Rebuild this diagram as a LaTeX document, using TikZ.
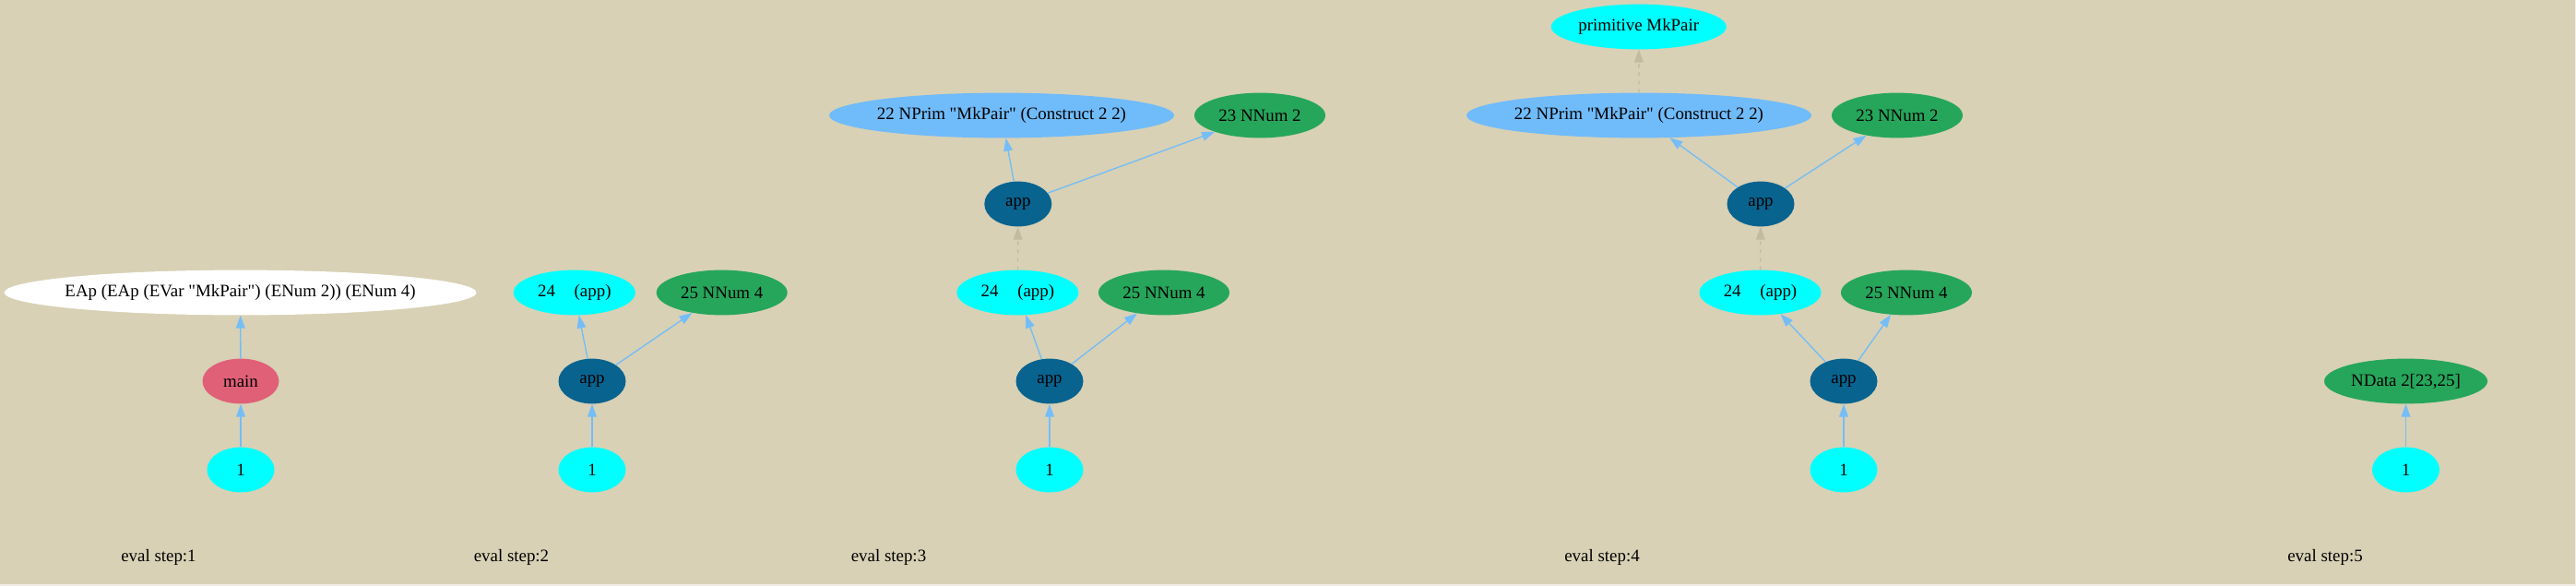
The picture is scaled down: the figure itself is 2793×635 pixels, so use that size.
\documentclass[tikz,border=0pt]{standalone}
\usepackage{fontspec}
\setmainfont{Liberation Serif}[Ligatures=TeXOff]
\usetikzlibrary{shapes.geometric,arrows.meta}
\definecolor{bgc}{HTML}{D8D1B5}
\definecolor{edgec}{HTML}{F1EEE6}
\definecolor{gvcyan}{HTML}{00FFFF}
\definecolor{gvgreen}{HTML}{26A65B}
\definecolor{gvdark}{HTML}{08638F}
\definecolor{gvpink}{HTML}{E06078}
\definecolor{gvlight}{HTML}{70BBFA}
\definecolor{eblue}{HTML}{74BDF7}
\definecolor{egray}{HTML}{C2BBA2}
\newcommand{\gvl}[1]{\makebox[0pt]{#1}}
\begin{document}
\begin{tikzpicture}[x=1pt,y=-1pt,
  font=\fontsize{18.9}{22}\selectfont,
  gv/.style={ellipse, inner sep=0pt, minimum height=48.8pt, text=black},
  small/.style={gv, minimum width=73pt},
  cyn/.style={fill=gvcyan},
  grn/.style={fill=gvgreen},
  drk/.style={fill=gvdark},
  pnk/.style={fill=gvpink},
  lbl/.style={fill=gvlight},
  wht/.style={fill=white},
  steplabel/.style={inner sep=0pt, text=black},
  ed/.style={draw=eblue, line width=1.35pt, -{Triangle[length=14pt,width=9.7pt]}},
  dd/.style={draw=egray, line width=1.35pt, dash pattern=on 4pt off 5pt, -{Triangle[length=14pt,width=9.7pt]}}]
\useasboundingbox (0,0) rectangle (2793,635);
\fill[edgec] (0,0) rectangle (2793,635);
\fill[bgc] (0,0) rectangle (2792,633);

% step 1
\node[gv,wht,minimum width=512pt] (s1e) at (260.6,317) {\gvl{EAp (EAp (EVar "MkPair") (ENum 2)) (ENum 4)}};
\node[gv,pnk,minimum width=83pt] (s1m) at (261,413) {\gvl{main}};
\node[small,cyn] (s1o) at (261,509) {\gvl{1}};
\node[steplabel] (s1l) at (172,604) {eval step:1};
\draw[ed] (s1m) -- (s1e);
\draw[ed] (s1o) -- (s1m);

% step 2
\node[gv,cyn,minimum width=132pt] (s2a) at (622.8,317) {\gvl{24\hspace{16pt} (app)}};
\node[gv,grn,minimum width=142pt] (s2n) at (782.7,317) {\gvl{25 NNum 4}};
\node[small,drk] (s2app) at (642,413) {\gvl{app}};
\node[small,cyn] (s2o) at (642,509) {\gvl{1}};
\node[steplabel] (s2l) at (554.5,604) {eval step:2};
\draw[ed] (s2app) -- (s2a);
\draw[ed] (s2app) -- (s2n);
\draw[ed] (s2o) -- (s2app);

% step 3
\node[gv,lbl,minimum width=374pt] (s3p) at (1086,125) {\gvl{22 NPrim "MkPair" (Construct 2 2)}};
\node[gv,grn,minimum width=142pt] (s3n23) at (1366,125) {\gvl{23 NNum 2}};
\node[small,drk] (s3app1) at (1103.8,221) {\gvl{app}};
\node[gv,cyn,minimum width=132pt] (s3a) at (1103.4,317) {\gvl{24\hspace{16pt} (app)}};
\node[gv,grn,minimum width=142pt] (s3n25) at (1262,317) {\gvl{25 NNum 4}};
\node[small,drk] (s3app2) at (1138,413) {\gvl{app}};
\node[small,cyn] (s3o) at (1138,509) {\gvl{1}};
\node[steplabel] (s3l) at (963.5,604) {eval step:3};
\draw[ed] (s3app1) -- (s3p);
\draw[ed] (s3app1) -- (s3n23);
\draw[dd] (s3a) -- (s3app1);
\draw[ed] (s3app2) -- (s3a);
\draw[ed] (s3app2) -- (s3n25);
\draw[ed] (s3o) -- (s3app2);

% step 4
\node[gv,cyn,minimum width=190pt] (s4prim) at (1776.8,29) {\gvl{primitive MkPair}};
\node[gv,lbl,minimum width=374pt] (s4p) at (1777,125) {\gvl{22 NPrim "MkPair" (Construct 2 2)}};
\node[gv,grn,minimum width=142pt] (s4n23) at (2057,125) {\gvl{23 NNum 2}};
\node[small,drk] (s4app1) at (1909,221) {\gvl{app}};
\node[gv,cyn,minimum width=132pt] (s4a) at (1908.5,317) {\gvl{24\hspace{16pt} (app)}};
\node[gv,grn,minimum width=142pt] (s4n25) at (2067,317) {\gvl{25 NNum 4}};
\node[small,drk] (s4app2) at (1999,413) {\gvl{app}};
\node[small,cyn] (s4o) at (1999,509) {\gvl{1}};
\node[steplabel] (s4l) at (1737,604) {eval step:4};
\draw[dd] (s4p) -- (s4prim);
\draw[ed] (s4app1) -- (s4p);
\draw[ed] (s4app1) -- (s4n23);
\draw[dd] (s4a) -- (s4app1);
\draw[ed] (s4app2) -- (s4a);
\draw[ed] (s4app2) -- (s4n25);
\draw[ed] (s4o) -- (s4app2);

% step 5
\node[gv,grn,minimum width=177pt] (s5d) at (2608.5,413) {\gvl{NData 2[23,25]}};
\node[small,cyn] (s5o) at (2608.5,509) {\gvl{1}};
\node[steplabel] (s5l) at (2521,604) {eval step:5};
\draw[ed] (s5o) -- (s5d);
\end{tikzpicture}
\end{document}
